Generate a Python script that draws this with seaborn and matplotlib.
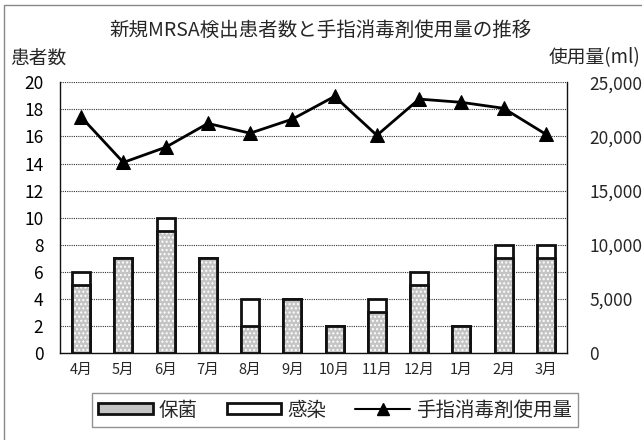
import matplotlib

matplotlib.use("Agg")
import matplotlib.pyplot as plt
import pandas as pd
import seaborn as sns
from matplotlib.lines import Line2D
from matplotlib.patches import Patch, Rectangle
from matplotlib.ticker import FuncFormatter, MultipleLocator

months = ["4月", "5月", "6月", "7月", "8月", "9月", "10月", "11月", "12月", "1月", "2月", "3月"]
carrier = [5, 7, 9, 7, 2, 4, 2, 3, 5, 2, 7, 7]
infected = [1, 0, 1, 0, 2, 0, 0, 1, 1, 0, 1, 1]
usage = [21800, 17600, 19000, 21200, 20300, 21600, 23700, 20100, 23450, 23150, 22600, 20200]

sns.set_theme(style="white")
plt.rcParams["font.family"] = ["Noto Sans CJK JP", "DejaVu Sans"]
plt.rcParams["hatch.linewidth"] = 1.0

df = pd.DataFrame({"month": months, "保菌": carrier, "感染": infected, "使用量": usage})
df["合計"] = df["保菌"] + df["感染"]

W, H = 642, 440
fig = plt.figure(figsize=(W / 100, H / 100), dpi=100)
ax = fig.add_axes([60 / W, (H - 353) / H, (567 - 60) / W, (353 - 82.3) / H])

bar_w = 0.43
dark = "#111111"
gray = "#c4c4c4"
edge_lw = 2.0

# total (infected on top) first, then carrier drawn over it
sns.barplot(data=df, x="month", y="合計", color="white", saturation=1,
            edgecolor=dark, linewidth=edge_lw, width=bar_w, errorbar=None, ax=ax)
sns.barplot(data=df, x="month", y="保菌", color=gray, saturation=1,
            edgecolor="white", linewidth=0, hatch="....", width=bar_w,
            errorbar=None, ax=ax)
sns.barplot(data=df, x="month", y="保菌", fill=False, color=dark,
            edgecolor=dark, linewidth=edge_lw, width=bar_w, errorbar=None, ax=ax)

ax.set_ylim(0, 20)
ax.set_xlim(-0.5, len(months) - 0.5)
ax.yaxis.set_major_locator(MultipleLocator(2))
ax.yaxis.grid(True, linestyle=(0, (1, 1)), color="#333333", linewidth=0.8)
ax.set_axisbelow(True)
ax.set_xlabel("")
ax.set_ylabel("")
ax.tick_params(axis="y", length=0, pad=12, labelsize=12.5, colors="black")
ax.tick_params(axis="x", which="major", length=0, pad=7, labelsize=10.5)
ax.set_xticks([i + 0.5 for i in range(len(months) - 1)], minor=True)
ax.tick_params(axis="x", which="minor", direction="in", length=4, width=0.8, color=dark)
for s in ["top", "right"]:
    ax.spines[s].set_visible(False)
for s in ["left", "bottom"]:
    ax.spines[s].set_color(dark)
    ax.spines[s].set_linewidth(1.0)

ax2 = ax.twinx()
sns.lineplot(data=df, x="month", y="使用量", sort=False, color="black",
             linewidth=2, marker="^", markersize=10, markeredgecolor="black",
             ax=ax2)
ax2.set_ylim(0, 25000)
ax2.yaxis.set_major_locator(MultipleLocator(5000))
ax2.yaxis.set_major_formatter(FuncFormatter(lambda v, p: f"{int(v):,}"))
ax2.tick_params(axis="y", length=0, pad=16, labelsize=12.5)
ax2.set_xlabel("")
ax2.set_ylabel("")
for s in ["top", "left", "bottom"]:
    ax2.spines[s].set_visible(False)
ax2.spines["right"].set_color(dark)
ax2.spines["right"].set_linewidth(1.0)

fig.text(0.5, 1 - 30 / H, "新規MRSA検出患者数と手指消毒剤使用量の推移",
         ha="center", va="center", fontsize=14)
fig.text(10 / W, 1 - 58 / H, "患者数", ha="left", va="center", fontsize=13.5)
fig.text(640 / W, 1 - 58 / H, "使用量(ml)", ha="right", va="center", fontsize=13.5)

handles = [
    Patch(facecolor=gray, edgecolor=dark, linewidth=edge_lw),
    Patch(facecolor="white", edgecolor=dark, linewidth=edge_lw),
    Line2D([], [], color="black", linewidth=1.5, marker="^", markersize=8),
]
leg = fig.legend(handles, ["保菌", "感染", "手指消毒剤使用量"], loc="center",
                 bbox_to_anchor=(335 / W, (H - 410) / H), ncol=3, fontsize=14,
                 frameon=True, fancybox=False, edgecolor="#777777",
                 handlelength=2.8, handleheight=0.45, handletextpad=0.3,
                 columnspacing=1.5, borderpad=0.35, borderaxespad=0)
leg.get_frame().set_linewidth(1.0)

fig.patches.append(Rectangle((4 / W, -0.05), 1.0, (H - 5) / H + 0.05,
                             transform=fig.transFigure, fill=False,
                             edgecolor="#888888", linewidth=1.0))

fig.savefig("out.png", dpi=100)
plt.close(fig)
